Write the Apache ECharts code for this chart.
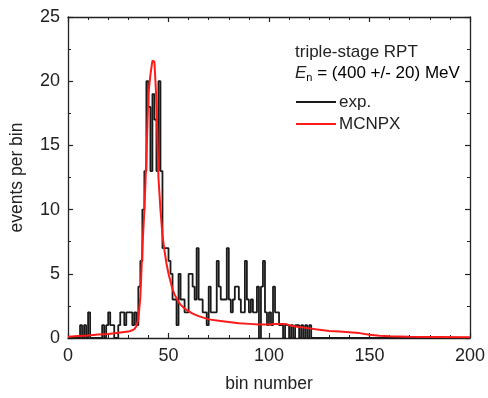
<!DOCTYPE html>
<html>
<head>
<meta charset="utf-8">
<script src="https://cdn.jsdelivr.net/npm/echarts@6/dist/echarts.min.js"></script>
<style>
html,body{margin:0;padding:0;background:#fff;}
#c{width:488px;height:398px;}
</style>
</head>
<body>
<div id="c"></div>
<script>
// Experimental histogram: counts per bin, bins 0..121 (rest zero)
var expCounts = [
  0,0,0,0,0,0,1,0,1,0,
  2,0,0,0,0,0,0,1,0,1,
  2,1,1,0,0,1,2,2,1,2,
  2,2,1,2,1,4,6,10,13,20,
  18,13,19,17,13,20,13,7,7,7,
  6,5,3,3,1,5,3,3,2,2,
  5,5,4,3,7,3,3,2,2,1,
  4,2,2,2,6,4,3,3,3,7,
  3,2,3,4,4,3,2,2,6,3,
  2,3,2,2,4,0,4,6,2,1,
  2,1,4,2,2,1,1,0,1,1,
  0,1,0,1,1,0,1,0,1,0,
  1,0
];
// MCNPX simulation curve
var mcnpxBins   = [0,5,10,15,20,25,30,32,33,34,35,36,37,38,39,40,41,42,43,44,45,46,47,48,49,50,51,52,53,54,55,56,58,60,62,65,70,75,80,85,90,95,100,104,108,111,115,120,125,130,135,140,145,150,155,160,170,185,200];
var mcnpxValues = [0.1,0.15,0.2,0.27,0.32,0.4,0.5,0.6,0.7,0.9,1.5,3.2,7,10,14,19,20.5,21.6,21.5,18.5,12.5,10,8,6.8,5.8,5,4.4,3.8,3.4,3.1,2.8,2.6,2.3,2.1,1.9,1.7,1.45,1.35,1.25,1.15,1.1,1.05,1.05,1.1,1.1,0.95,0.85,0.75,0.65,0.55,0.5,0.45,0.38,0.25,0.18,0.14,0.1,0.08,0.06];
var xTicks = [0,50,100,150,200];
var yTicks = [0,5,10,15,20,25];

var expData = [];
for (var i = 0; i < 200; i++) {
  expData.push([i, i < expCounts.length ? expCounts[i] : 0]);
}
expData.push([200, 0]);
var mcData = mcnpxBins.map(function(b, k){ return [b, mcnpxValues[k]]; });

var FONT = 'Liberation Sans, Arial, sans-serif';
var chart = echarts.init(document.getElementById('c'), null, {renderer:'canvas'});

function xAx(pos, show) {
  return {
    type:'value', position:pos, min:xTicks[0], max:xTicks[xTicks.length-1], interval:xTicks[1]-xTicks[0],
    axisLine:{show:true, onZero:false, lineStyle:{color:'#222', width:1.3}},
    axisTick:{show:true, inside:true, length:5, lineStyle:{color:'#222', width:1.2}},
    minorTick:{show:true, splitNumber:5, length:3, lineStyle:{color:'#222', width:1}},
    splitLine:{show:false},
    axisLabel:{show:show, color:'#222', fontSize:18, fontFamily:FONT, margin:9},
    name: show ? 'bin number' : '', nameLocation:'middle', nameGap:37,
    nameTextStyle:{color:'#222', fontSize:17.5, fontFamily:FONT}
  };
}
function yAx(pos, show) {
  return {
    type:'value', position:pos, min:yTicks[0], max:yTicks[yTicks.length-1], interval:yTicks[1]-yTicks[0],
    axisLine:{show:true, onZero:false, lineStyle:{color:'#222', width:1.3}},
    axisTick:{show:true, inside:true, length:5, lineStyle:{color:'#222', width:1.2}},
    minorTick:{show:true, splitNumber:2, length:3, lineStyle:{color:'#222', width:1}},
    splitLine:{show:false},
    axisLabel:{show:show, color:'#222', fontSize:18, fontFamily:FONT, margin:8},
    name: show ? 'events per bin' : '', nameLocation:'middle', nameGap:42,
    nameTextStyle:{color:'#222', fontSize:17.5, fontFamily:FONT}
  };
}

chart.setOption({
  animation:false,
  backgroundColor:'#fff',
  grid:{left:67, top:17, width:408, height:330},
  xAxis:[xAx('bottom', true), xAx('top', false)],
  yAxis:[yAx('left', true), yAx('right', false)],
  legend:{
    orient:'vertical', left:296, top:93, padding:0, itemWidth:40, itemHeight:2, itemGap:4,
    icon:'rect',
    textStyle:{color:'#222', fontSize:17, fontFamily:FONT, lineHeight:18, padding:[0,0,0,-2]},
    data:[{name:'exp.'},{name:'MCNPX'}]
  },
  graphic:[
    {type:'text', left:295, top:44, style:{text:'triple-stage RPT', fill:'#222', font:'17px ' + FONT}},
    {type:'text', left:295, top:65, style:{
      rich:{
        e:{fontStyle:'italic', fontSize:17, fontFamily:FONT, fill:'#222', color:'#222'},
        s:{fontSize:11, fontFamily:FONT, color:'#222', verticalAlign:'bottom', padding:[8,0,0,0]},
        t:{fontSize:17, fontFamily:FONT, color:'#222'}
      },
      text:'{e|E}{s|n}{t| = (400 +/- 20) MeV}'
    }}
  ],
  series:[
    {name:'exp.', type:'line', step:'end', data:expData, showSymbol:false, symbol:'none',
     lineStyle:{color:'#1a1a1a', width:1.8}, itemStyle:{color:'#1a1a1a'}, z:2},
    {name:'MCNPX', type:'line', data:mcData, showSymbol:false, symbol:'none',
     lineStyle:{color:'#ff1a1a', width:2}, itemStyle:{color:'#ff1a1a'}, z:3}
  ]
});
</script>
</body>
</html>
